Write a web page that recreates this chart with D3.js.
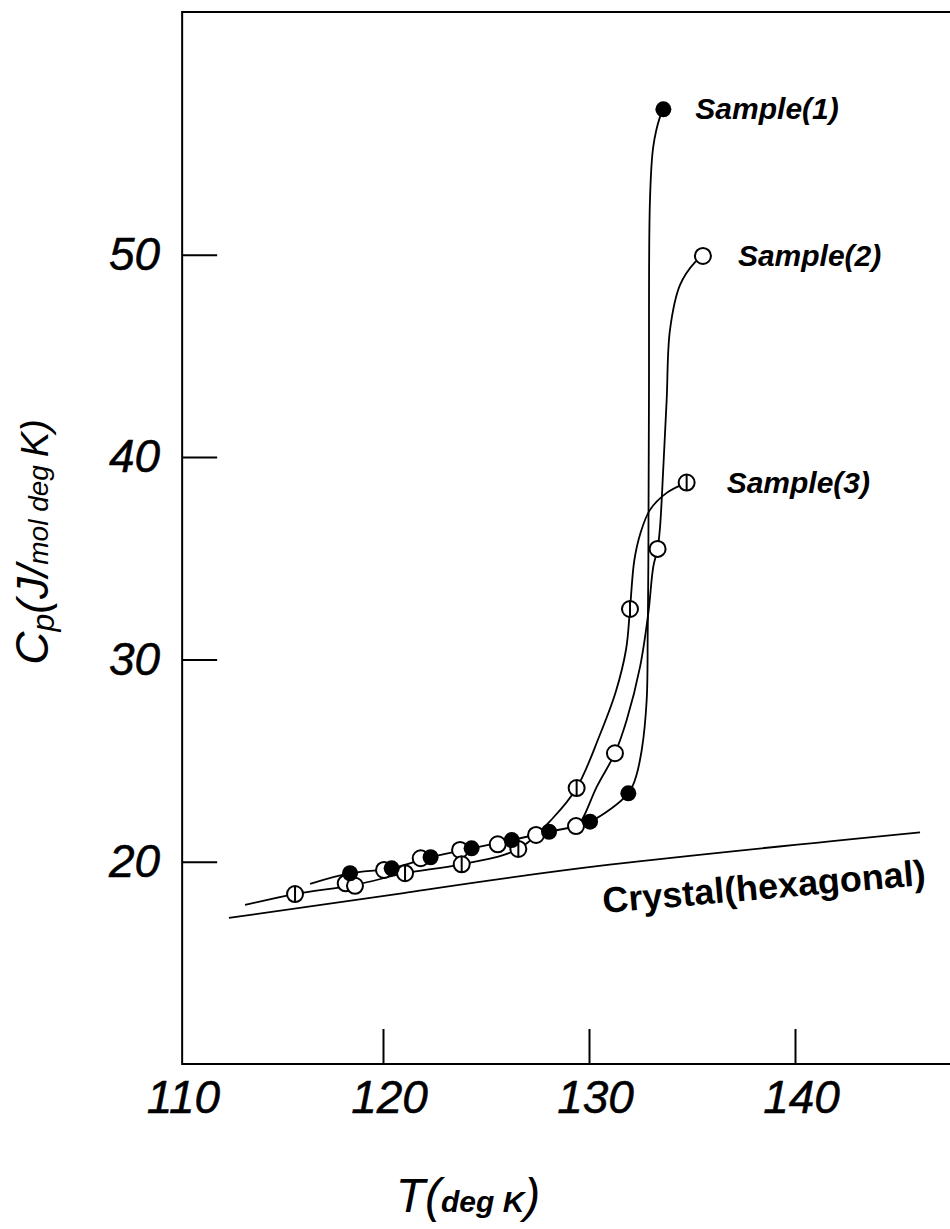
<!DOCTYPE html>
<html>
<head>
<meta charset="utf-8">
<script src="https://cdn.jsdelivr.net/npm/d3@7"></script>
<style>
  body { margin: 0; background: #fff; }
  svg { display: block; }
</style>
</head>
<body>
<script>
var sample1 = [[118.4,19.43],[120.42,19.67],[122.31,20.22],[124.3,20.66],[126.25,21.07],[128.06,21.48],[130.05,21.98],[131.91,23.38],[133.61,57.19]];
var sample2 = [[118.19,18.93],[118.64,18.81],[120.05,19.59],[121.83,20.17],[123.74,20.58],[125.57,20.86],[127.43,21.32],[129.37,21.76],[131.26,25.36],[133.33,35.46],[135.53,49.94]];
var sample3 = [[115.73,18.4],[121.07,19.43],[123.82,19.87],[126.57,20.63],[129.4,23.64],[131.99,32.49],[134.74,38.74]];

// hand-drawn curves
var curve1 = [[116.46,18.9],[118.4,19.43],[120.42,19.67],[122.31,20.22],[124.3,20.66],[126.25,21.07],[128.06,21.48],[130.05,21.98],[131.91,23.38],[132.23,24.04],[132.56,25.52],[132.8,27.99],[132.85,31.31],[132.88,34.57],[132.91,42.82],[132.96,52.71],[133.12,55.35],[133.45,56.83],[133.61,57.19]];
var curve2 = [[129.37,21.76],[129.65,22.06],[130.38,23.71],[131.26,25.36],[131.83,27.0],[132.48,29.64],[132.88,32.29],[133.12,34.58],[133.33,35.46],[133.45,36.56],[133.61,39.53],[133.77,42.82],[133.93,46.28],[134.42,48.51],[135.15,49.64],[135.53,49.94]];
var curve3 = [[113.3,17.86],[115.73,18.4],[118.64,18.85],[121.07,19.43],[123.82,19.87],[126.57,20.63],[128.25,22.16],[129.4,23.64],[130.5,26.2],[131.3,28.4],[131.8,30.5],[131.99,32.49],[132.2,34.9],[132.5,36.25],[132.96,37.39],[133.77,38.23],[134.74,38.74]];
var crystal = [[112.52,17.22],[121,18.45],[131,19.85],[146.07,21.45]];

var xTicks = [110, 120, 130, 140];
var yTicks = [20, 30, 40, 50];
var labels = ["Sample(1)", "Sample(2)", "Sample(3)"];

var W = 950, H = 1229;
var svg = d3.select("body").append("svg")
    .attr("width", W)
    .attr("height", H);

svg.append("rect").attr("width", W).attr("height", H).attr("fill", "#fff");

var x = d3.scaleLinear().domain([110, 150]).range([177, 1001]);
var y = d3.scaleLinear().domain([10, 62]).range([1064, 12]);
var xMin = 110.25, yMin = 10, yMax = 62;

var numFont = "'Liberation Sans', Arial, sans-serif";

// frame: top, left and bottom (no right edge in the figure)
svg.append("path")
    .attr("d", "M" + W + "," + y(yMax) + "H" + x(xMin) + "V" + y(yMin) + "H" + W)
    .attr("fill", "none")
    .attr("stroke", "#000")
    .attr("stroke-width", 2);

var gx = svg.append("g")
    .attr("transform", "translate(0," + y(yMin) + ")")
    .call(d3.axisBottom(x).tickValues(xTicks).tickSizeInner(-35).tickSizeOuter(0).tickPadding(16));
gx.select(".domain").remove();
gx.selectAll("line").attr("stroke-width", 2);
// the 110 tick sits on the left axis, only its label is drawn
gx.selectAll(".tick").filter(function(d) { return d === 110; }).select("line").remove();
gx.selectAll("text")
    .attr("font-size", 46)
    .attr("font-family", numFont)
    .attr("font-style", "italic")
    .attr("dx", 6)
    .attr("stroke", "#000")
    .attr("stroke-width", 0.5);

var gy = svg.append("g")
    .attr("transform", "translate(" + x(xMin) + ",0)")
    .call(d3.axisLeft(y).tickValues(yTicks).tickSizeInner(-35).tickSizeOuter(0).tickPadding(22));
gy.select(".domain").remove();
gy.selectAll("line").attr("stroke-width", 2);
gy.selectAll("text")
    .attr("font-size", 46)
    .attr("font-family", numFont)
    .attr("font-style", "italic")
    .attr("stroke", "#000")
    .attr("stroke-width", 0.5);

// axis titles
var xt = svg.append("text")
    .attr("x", 468)
    .attr("y", 1212)
    .attr("text-anchor", "middle")
    .attr("font-family", numFont)
    .attr("font-style", "italic");
xt.append("tspan").attr("font-size", 48).text("T(");
xt.append("tspan").attr("font-size", 30).attr("font-weight", "bold").text("deg K");
xt.append("tspan").attr("font-size", 48).text(")");

var yt = svg.append("text")
    .attr("transform", "translate(48,542) rotate(-90)")
    .attr("text-anchor", "middle")
    .attr("font-family", numFont)
    .attr("font-style", "italic");
yt.append("tspan").attr("font-size", 46).text("C");
yt.append("tspan").attr("font-size", 32).attr("dy", 6).text("p");
yt.append("tspan").attr("font-size", 44).attr("dy", -6).text("(J/");
yt.append("tspan").attr("font-size", 28).text("mol  deg ");
yt.append("tspan").attr("font-size", 38).text("K)");

// curves
var line = d3.line()
    .x(function(d) { return x(d[0]); })
    .y(function(d) { return y(d[1]); })
    .curve(d3.curveCatmullRom.alpha(0.5));

[curve1, curve2, curve3].forEach(function(c) {
    svg.append("path")
        .datum(c)
        .attr("fill", "none")
        .attr("stroke", "#000")
        .attr("stroke-width", 1.8)
        .attr("d", line);
});

svg.append("path")
    .datum(crystal)
    .attr("fill", "none")
    .attr("stroke", "#000")
    .attr("stroke-width", 1.8)
    .attr("d", line.curve(d3.curveNatural));

var r = 8;

// sample 2: open circles
svg.append("g").selectAll("circle")
    .data(sample2)
    .enter().append("circle")
    .attr("cx", function(d) { return x(d[0]); })
    .attr("cy", function(d) { return y(d[1]); })
    .attr("r", r)
    .attr("fill", "#fff")
    .attr("stroke", "#000")
    .attr("stroke-width", 2);

// sample 3: circles with vertical bar
var g3 = svg.append("g").selectAll("g")
    .data(sample3)
    .enter().append("g")
    .attr("transform", function(d) { return "translate(" + x(d[0]) + "," + y(d[1]) + ")"; });
g3.append("circle")
    .attr("r", r)
    .attr("fill", "#fff")
    .attr("stroke", "#000")
    .attr("stroke-width", 2);
g3.append("line")
    .attr("y1", -r)
    .attr("y2", r)
    .attr("stroke", "#000")
    .attr("stroke-width", 2);

// sample 1: filled circles
svg.append("g").selectAll("circle")
    .data(sample1)
    .enter().append("circle")
    .attr("cx", function(d) { return x(d[0]); })
    .attr("cy", function(d) { return y(d[1]); })
    .attr("r", r)
    .attr("fill", "#000");

// series labels next to their last point
var ends = [sample1[sample1.length - 1], sample2[sample2.length - 1], sample3[sample3.length - 1]];
var offs = [[32, 10], [35, 10], [40, 10]];
svg.append("g").selectAll("text")
    .data(labels)
    .enter().append("text")
    .attr("x", function(d, i) { return x(ends[i][0]) + offs[i][0]; })
    .attr("y", function(d, i) { return y(ends[i][1]) + offs[i][1]; })
    .attr("font-family", numFont)
    .attr("font-size", 30)
    .attr("font-weight", "bold")
    .attr("font-style", "italic")
    .text(function(d) { return d; });

svg.append("text")
    .attr("transform", "translate(765,899) rotate(-5)")
    .attr("text-anchor", "middle")
    .attr("font-family", numFont)
    .attr("font-size", 36)
    .attr("font-weight", "bold")
    .text("Crystal(hexagonal)");
</script>
</body>
</html>
